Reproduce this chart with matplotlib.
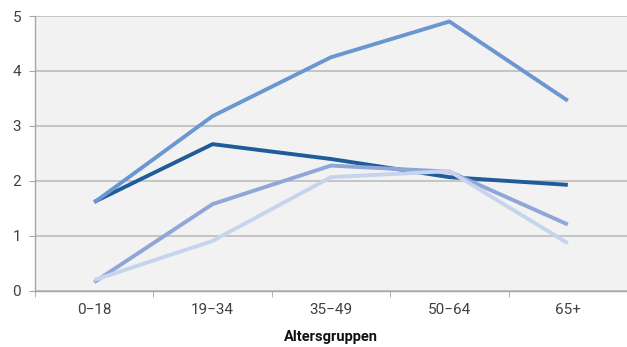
import matplotlib
matplotlib.use("Agg")
import matplotlib.pyplot as plt

# ── Data ─────────────────────────────────────────────────────────────────────
groups = ["0\u221218", "19\u221234", "35\u221249", "50\u221264", "65+"]
s_dark  = [1.62, 2.67, 2.40, 2.07, 1.93]
s_mid   = [1.61, 3.18, 4.25, 4.90, 3.46]
s_soft  = [0.16, 1.58, 2.28, 2.17, 1.21]
s_light = [0.20, 0.91, 2.07, 2.18, 0.87]

plt.rcParams["font.family"] = ["Roboto", "DejaVu Sans"]

fig = plt.figure(figsize=(6.27, 3.47), dpi=100)
ax = fig.add_axes([35 / 627, 1 - 291 / 347, 1 - 35 / 627, 275 / 347])
ax.set_facecolor("#f2f2f2")

x = range(len(groups))
lw = 2.8
ax.plot(x, s_dark,  color="#1f5c99", lw=lw, zorder=3, solid_capstyle="butt")
ax.plot(x, s_mid,   color="#6b97d0", lw=lw, zorder=4, solid_capstyle="butt")
ax.plot(x, s_soft,  color="#8ea6d8", lw=lw, zorder=5, solid_capstyle="butt")
ax.plot(x, s_light, color="#c6d4ee", lw=lw, zorder=6, solid_capstyle="butt")

ax.set_xlim(-0.5, 4.5)
ax.set_ylim(0, 5)
ax.set_yticks(range(0, 6))
ax.set_xticks(list(x))
ax.set_xticklabels(groups)
ax.set_xticks([i - 0.5 for i in range(6)], minor=True)

ax.yaxis.grid(True, color="#bdbdbd", lw=1.2)
ax.set_axisbelow(True)
for s in ["top", "right"]:
    ax.spines[s].set_visible(False)
for s in ["left", "bottom"]:
    ax.spines[s].set_color("#a6a6a6")
    ax.spines[s].set_linewidth(1.0)

ax.tick_params(axis="x", which="major", length=0, pad=9, labelsize=11,
               labelcolor="#404040")
ax.tick_params(axis="x", which="minor", length=4, color="#a6a6a6")
ax.tick_params(axis="y", length=4, color="#a6a6a6", pad=6, labelsize=11,
               labelcolor="#404040")

ax.set_xlabel("Altersgruppen", fontsize=10.5, color="#111111",
              fontweight="bold", labelpad=9)

fig.savefig("out.png", dpi=100)
